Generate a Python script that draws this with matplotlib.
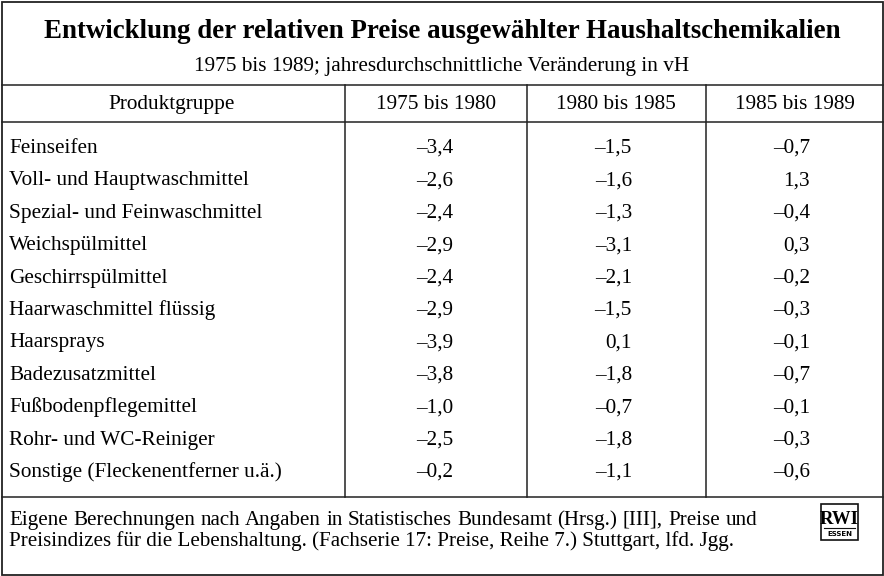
import matplotlib
matplotlib.use("Agg")
import matplotlib.pyplot as plt
from matplotlib.patches import Rectangle

title = "Entwicklung der relativen Preise ausgewählter Haushaltschemikalien"
subtitle = "1975 bis 1989; jahresdurchschnittliche Veränderung in vH"
columns = ["Produktgruppe", "1975 bis 1980", "1980 bis 1985", "1985 bis 1989"]
products = ["Feinseifen", "Voll- und Hauptwaschmittel", "Spezial- und Feinwaschmittel",
            "Weichspülmittel", "Geschirrspülmittel", "Haarwaschmittel flüssig",
            "Haarsprays", "Badezusatzmittel", "Fußbodenpflegemittel",
            "Rohr- und WC-Reiniger", "Sonstige (Fleckenentferner u.ä.)"]
p1975_80 = [-3.4, -2.6, -2.4, -2.9, -2.4, -2.9, -3.9, -3.8, -1.0, -2.5, -0.2]
p1980_85 = [-1.5, -1.6, -1.3, -3.1, -2.1, -1.5, 0.1, -1.8, -0.7, -1.8, -1.1]
p1985_89 = [-0.7, 1.3, -0.4, 0.3, -0.2, -0.3, -0.1, -0.7, -0.1, -0.3, -0.6]
footer1 = ("Eigene Berechnungen nach Angaben in Statistisches Bundesamt (Hrsg.) [III], "
           "Preise und")
footer2 = "Preisindizes für die Lebenshaltung. (Fachserie 17: Preise, Reihe 7.) Stuttgart, lfd. Jgg."

FONT = "Liberation Serif"
FS = 15.3
W, H = 884, 576


def fmt(v):
    s = "{:.1f}".format(abs(v)).replace(".", ",")
    return ("–" if v < 0 else "") + s


def txt(x, y, s, ha="left", size=FS, **kw):
    return ax.text(x, y, s, ha=ha, va="baseline", fontsize=size, family=FONT, **kw)


fig = plt.figure(figsize=(W / 100, H / 100), dpi=100)
ax = fig.add_axes([0, 0, 1, 1])
ax.set_xlim(0, W)
ax.set_ylim(H, 0)
ax.axis("off")

lw = 1.1
# outer frame and horizontal rules
ax.add_patch(Rectangle((1.5, 1.5), W - 3, H - 3, fill=False, lw=1.3, color="#222"))
for y in [85, 122, 497]:
    ax.plot([1.5, W - 1.5], [y, y], color="#222", lw=lw)
for x in [345, 527, 706]:
    ax.plot([x, x], [85, 497], color="#222", lw=lw)

txt(W / 2, 38, title, ha="center", size=19.4, fontweight="bold")
txt(W / 2, 71, subtitle, ha="center")

hx = [172, 436, 616, 795]
for x, c in zip(hx, columns):
    txt(x, 109, c, ha="center")

row0, step = 153, 32.4
vx = [453, 632, 810]
for i, name in enumerate(products):
    y = row0 + i * step
    txt(9, y, name)
    for x, series in zip(vx, [p1975_80, p1980_85, p1985_89]):
        txt(x, y, fmt(series[i]), ha="right")

# footer, first line justified
fig.canvas.draw()
renderer = fig.canvas.get_renderer()
words = footer1.split(" ")
arts = [txt(0, 525, w, size=15.1) for w in words]
widths = [a.get_window_extent(renderer).width for a in arts]
left, right = 9, 757
gap = (right - left - sum(widths)) / (len(words) - 1)
x = left
for a, w in zip(arts, widths):
    a.set_x(x)
    x += w + gap
txt(9, 546, footer2, size=15.1)

# RWI logo
ax.add_patch(Rectangle((821, 504), 37, 36, fill=False, lw=1.2, color="#111"))
txt(839.5, 524, "RWI", ha="center", size=13.5, fontweight="bold")
ax.plot([824, 855], [528, 528], color="#111", lw=0.8)
ax.text(839.5, 534, "ESSEN", ha="center", va="center", fontsize=5, fontweight="bold",
        family="DejaVu Sans")

fig.savefig("out.png", dpi=100)
